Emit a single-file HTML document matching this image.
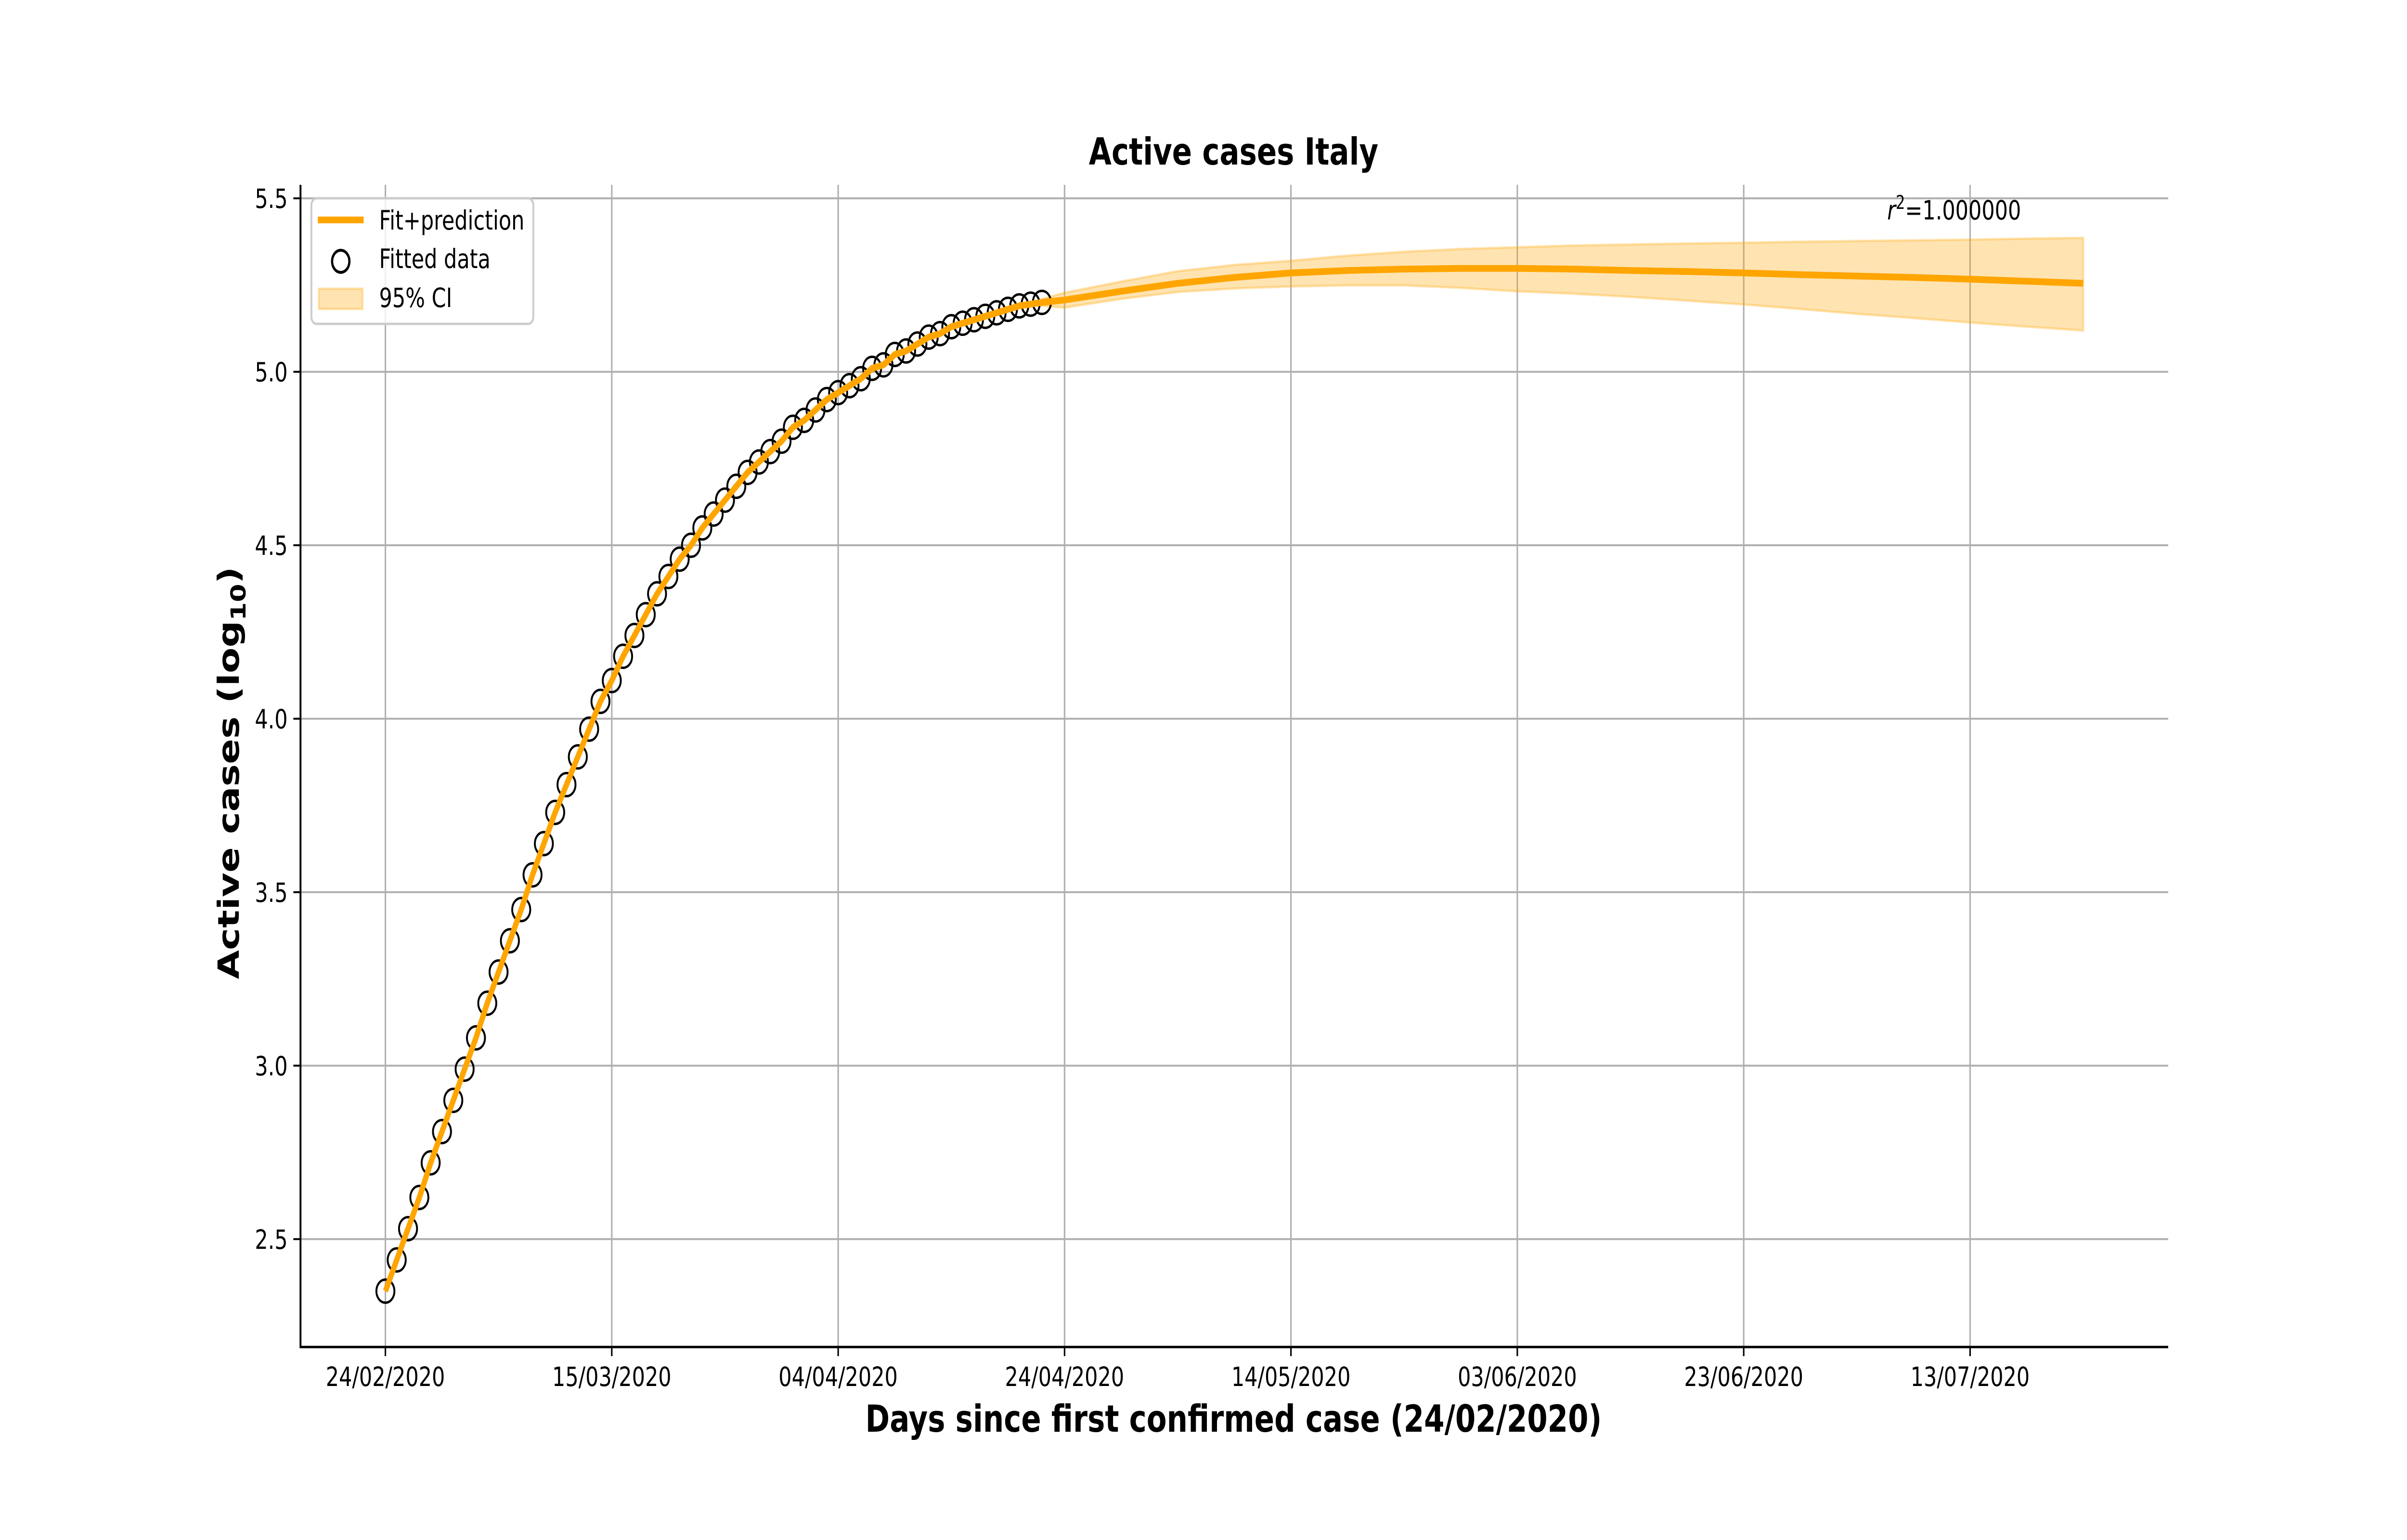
<!DOCTYPE html>
<html><head><meta charset="utf-8"><style>
html,body{margin:0;padding:0;background:#fff;overflow:hidden;width:100%;height:100%;}
svg{display:block;width:100vw;height:100vh;font-family:"DejaVu Sans","Liberation Sans",sans-serif;}
</style></head><body>
<svg id="chart" viewBox="0 0 6400 3200" preserveAspectRatio="none" xmlns="http://www.w3.org/2000/svg">
<rect width="6400" height="3200" fill="#fff"/>
<g id="grid"></g>
<g id="ci"></g>
<g id="points"></g>
<g id="fitline"></g>
<g id="axes"></g>
<text x="3280" y="342" text-anchor="middle" font-size="78" font-weight="bold">Active cases Italy</text>
<text x="3280" y="2975" text-anchor="middle" font-size="78" font-weight="bold">Days since first confirmed case (24/02/2020)</text>
<text transform="translate(635,1606) rotate(-90)" text-anchor="middle" font-size="78" font-weight="bold">Active cases (log<tspan font-size="55" dy="18">10</tspan><tspan dy="-18">)</tspan></text>
<text x="5018" y="456" font-size="55"><tspan font-style="italic">r</tspan><tspan font-size="39" dy="-22">2</tspan><tspan dy="22">=1.000000</tspan></text>
<g>
<rect x="828" y="412" width="590" height="261" rx="14" fill="#fff" fill-opacity="0.8" stroke="#cccccc" stroke-width="5"/>
<line x1="845" y1="457" x2="967" y2="457" stroke="#ffa500" stroke-width="14"/>
<text x="1008" y="477" font-size="55">Fit+prediction</text>
<circle cx="906" cy="543" r="23" fill="none" stroke="#000" stroke-width="6"/>
<text x="1008" y="557" font-size="55">Fitted data</text>
<rect x="848" y="600" width="116" height="42" fill="#ffa500" fill-opacity="0.3" stroke="#ffa500" stroke-opacity="0.3" stroke-width="5"/>
<text x="1008" y="638" font-size="55">95% CI</text>
</g>
</svg>
<script>
const dataDays = [];
for (let i = 0; i <= 58; i++) dataDays.push(i);
const dataValues = [2.35,2.44,2.53,2.62,2.72,2.81,2.90,2.99,3.08,3.18,3.27,3.36,3.45,3.55,3.64,3.73,3.81,3.89,3.97,4.05,4.11,4.18,4.24,4.30,4.36,4.41,4.46,4.50,4.55,4.59,4.63,4.67,4.71,4.74,4.77,4.80,4.84,4.86,4.89,4.92,4.94,4.96,4.98,5.01,5.02,5.05,5.06,5.08,5.10,5.11,5.13,5.14,5.15,5.16,5.17,5.18,5.19,5.195,5.20];
const predDays = [58,60,65,70,75,80,85,90,95,100,105,110,115,120,125,130,135,140,145,150];
const predValues = [5.20,5.207,5.232,5.255,5.272,5.285,5.292,5.296,5.298,5.298,5.296,5.292,5.289,5.285,5.280,5.276,5.272,5.267,5.261,5.255];
const ciLower = [5.19,5.185,5.21,5.23,5.24,5.246,5.249,5.249,5.242,5.232,5.225,5.216,5.205,5.194,5.181,5.167,5.155,5.142,5.13,5.119];
const ciUpper = [5.21,5.228,5.26,5.29,5.308,5.32,5.335,5.346,5.354,5.359,5.364,5.367,5.370,5.372,5.375,5.377,5.379,5.381,5.384,5.386];
const xTickDays = [0,20,40,60,80,100,120,140];
const xTickLabels = ["24/02/2020","15/03/2020","04/04/2020","24/04/2020","14/05/2020","03/06/2020","23/06/2020","13/07/2020"];
const yTicks = [2.5,3.0,3.5,4.0,4.5,5.0,5.5];
const yTickLabels = ["2.5","3.0","3.5","4.0","4.5","5.0","5.5"];

const L=799,R=5765,T=384,B=2799, xMin=-7.5,xMax=157.5,yMin=2.189,yMax=5.539;
const X=d=>L+(d-xMin)/(xMax-xMin)*(R-L);
const Y=v=>B-(v-yMin)/(yMax-yMin)*(B-T);
const NS="http://www.w3.org/2000/svg";
function mk(tag,attrs,parent){const e=document.createElementNS(NS,tag);for(const k in attrs)e.setAttribute(k,attrs[k]);parent.appendChild(e);return e;}
const grid=document.getElementById('grid'),axes=document.getElementById('axes');
xTickDays.forEach((d,i)=>{
  const g=mk('line',{x1:X(d),x2:X(d),y1:T,y2:B,stroke:'#b0b0b0','stroke-width':4},grid);
  
  
  const t=mk('line',{x1:X(d),x2:X(d),y1:B,y2:B+19,stroke:'#000','stroke-width':4},axes);
  
  
  const lb=mk('text',{x:X(d),y:2880,'text-anchor':'middle','font-size':55},axes);
  lb.textContent=xTickLabels[i];
  
  
});
yTicks.forEach((v,i)=>{
  const g=mk('line',{x1:L,x2:R,y1:Y(v),y2:Y(v),stroke:'#b0b0b0','stroke-width':4},grid);
  
  
  const t=mk('line',{x1:L-19,x2:L,y1:Y(v),y2:Y(v),stroke:'#000','stroke-width':4},axes);
  
  
  const lb=mk('text',{x:L-34,y:Y(v)+20,'text-anchor':'end','font-size':55},axes);
  lb.textContent=yTickLabels[i];
  
  
});
const sp1=mk('line',{x1:L,x2:L,y1:T,y2:B+2,stroke:'#000','stroke-width':5},axes);


const sp2=mk('line',{x1:L-2,x2:R,y1:B,y2:B,stroke:'#000','stroke-width':5},axes);



let pts=predDays.map((d,i)=>X(d)+','+Y(ciUpper[i]));
for(let i=predDays.length-1;i>=0;i--)pts.push(X(predDays[i])+','+Y(ciLower[i]));
const band=mk('polygon',{points:pts.join(' '),fill:'#ffa500','fill-opacity':0.3,stroke:'#ffa500','stroke-opacity':0.3,'stroke-width':5},document.getElementById('ci'));



const pg=document.getElementById('points');
dataDays.forEach((d,i)=>{
  const c=mk('circle',{cx:X(d),cy:Y(dataValues[i]),r:24,fill:'none',stroke:'#000','stroke-width':5},pg);
  
  
});

const fitPts=dataDays.map((d,i)=>X(d)+','+Y(dataValues[i])).concat(predDays.slice(1).map((d,i)=>X(d)+','+Y(predValues[i+1])));
const fl=mk('polyline',{points:fitPts.join(' '),fill:'none',stroke:'#ffa500','stroke-width':14,'stroke-linejoin':'round'},document.getElementById('fitline'));


</script>
</body></html>
